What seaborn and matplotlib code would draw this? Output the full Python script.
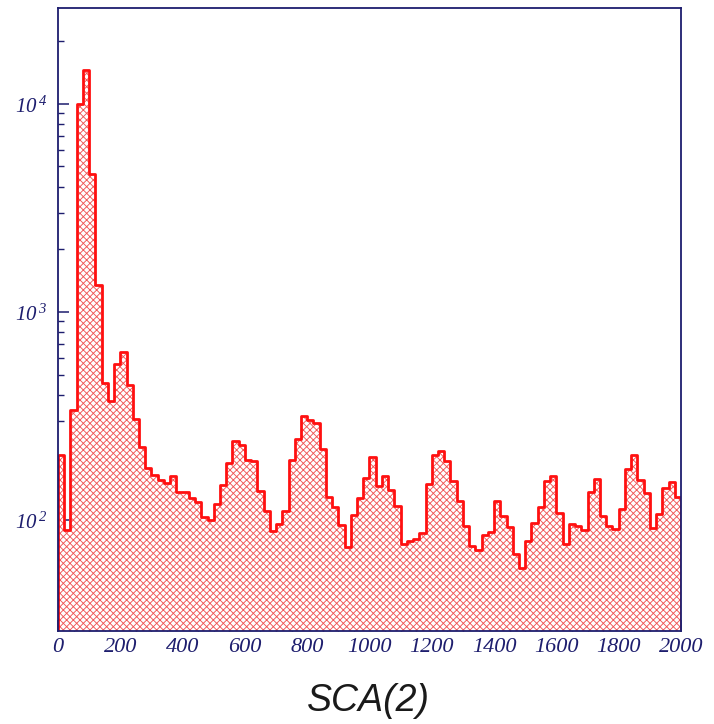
import numpy as np
import pandas as pd
import matplotlib
matplotlib.use("Agg")
import matplotlib.pyplot as plt
from matplotlib.ticker import FixedLocator, FuncFormatter, MultipleLocator, LogLocator, NullFormatter
import seaborn as sns

# SCA(2) spectrum: 100 channels of width 20 between 0 and 2000
bin_width = 20
x_range = (0, 2000)
counts = [
    205, 90, 338, 10000, 14500, 4590, 1350, 454, 374, 563,
    643, 444, 307, 225, 178, 164, 155, 151, 163, 136,
    136, 127, 122, 103, 100, 120, 147, 187, 241, 229,
    194, 192, 138, 111, 89, 96, 110, 194, 246, 316,
    302, 294, 219, 129, 116, 95, 74, 106, 127, 160,
    201, 145, 162, 140, 117, 77, 79, 81, 87, 149,
    205, 215, 192, 154, 123, 94, 75, 72, 85, 88,
    123, 104, 93, 69, 59, 79, 97, 115, 154, 162,
    108, 77, 96, 94, 90, 136, 157, 104, 94, 91,
    113, 175, 205, 156, 135, 92, 107, 143, 152, 129,
]
x_ticks = list(range(0, 2001, 200))
x_tick_labels = [str(v) for v in x_ticks]
y_ticks = [1e2, 1e3, 1e4]
x_title = "SCA(2)"

centers = np.arange(x_range[0], x_range[1], bin_width) + bin_width / 2
df = pd.DataFrame({"channel": centers, "counts": counts})

sns.set_theme(style="white")
plt.rcParams["mathtext.fontset"] = "custom"
plt.rcParams["mathtext.rm"] = "Liberation Serif:italic"
plt.rcParams["mathtext.it"] = "Liberation Serif:italic"
plt.rcParams["hatch.linewidth"] = 0.65

navy = "#1e1e6e"
red = "#ff1010"

fig = plt.figure(figsize=(7.14, 7.24), dpi=100)
ax = fig.add_axes([0.0812, 0.129, 0.8726, 0.860])

hist_kws = dict(data=df, x="channel", weights="counts", binwidth=bin_width,
                binrange=x_range, element="step", fill=True, ax=ax,
                color=red, alpha=1)

# hatched fill under the histogram
sns.histplot(linewidth=0, **hist_kws)
fill = ax.collections[-1]
fill.set_facecolor("white")
fill.set_edgecolor("#f05858")
fill.set_linewidth(0)
fill.set_hatch("xxxxx")

# red outline on top
sns.histplot(linewidth=2.0, **hist_kws)
outline = ax.collections[-1]
outline.set_facecolor("none")
outline.set_edgecolor(red)
outline.set_linewidth(2.0)

ax.set_yscale("log")
ax.set_xlim(*x_range)
ax.set_ylim(29.4, 28900)

ax.xaxis.set_major_locator(FixedLocator(x_ticks))
ax.xaxis.set_major_formatter(FuncFormatter(
    lambda v, p: x_tick_labels[x_ticks.index(int(round(v)))] if int(round(v)) in x_ticks else ""))
ax.xaxis.set_minor_locator(MultipleLocator(50))
ax.yaxis.set_major_locator(FixedLocator(y_ticks))
ax.yaxis.set_major_formatter(FuncFormatter(lambda v, p: r"$10^{\;%d}$" % int(round(np.log10(v)))))
ax.yaxis.set_minor_locator(LogLocator(base=10, subs=np.arange(2, 10)))
ax.yaxis.set_minor_formatter(NullFormatter())

ax.tick_params(axis="both", which="both", direction="in", color=navy,
               bottom=True, left=True, top=False, right=False)
ax.tick_params(axis="both", which="major", length=8, width=1.1)
ax.tick_params(axis="both", which="minor", length=4.5, width=1.0)
ax.tick_params(axis="x", which="major", pad=5, labelsize=16, labelcolor=navy)
ax.tick_params(axis="y", which="major", pad=7, labelsize=15, labelcolor=navy)
for lab in ax.get_xticklabels():
    lab.set_fontfamily("Liberation Serif")
    lab.set_fontstyle("italic")

for sp in ax.spines.values():
    sp.set_color(navy)
    sp.set_linewidth(1.3)
    sp.set_visible(True)
    sp.set_zorder(5)

ax.set_ylabel("")
ax.set_xlabel("")
fig.text(0.516, 0.032, x_title, ha="center", va="center",
         fontsize=27, fontstyle="italic", fontfamily="Liberation Sans",
         color="#1a1a1a")

fig.savefig("out.png", dpi=100, facecolor="white")
